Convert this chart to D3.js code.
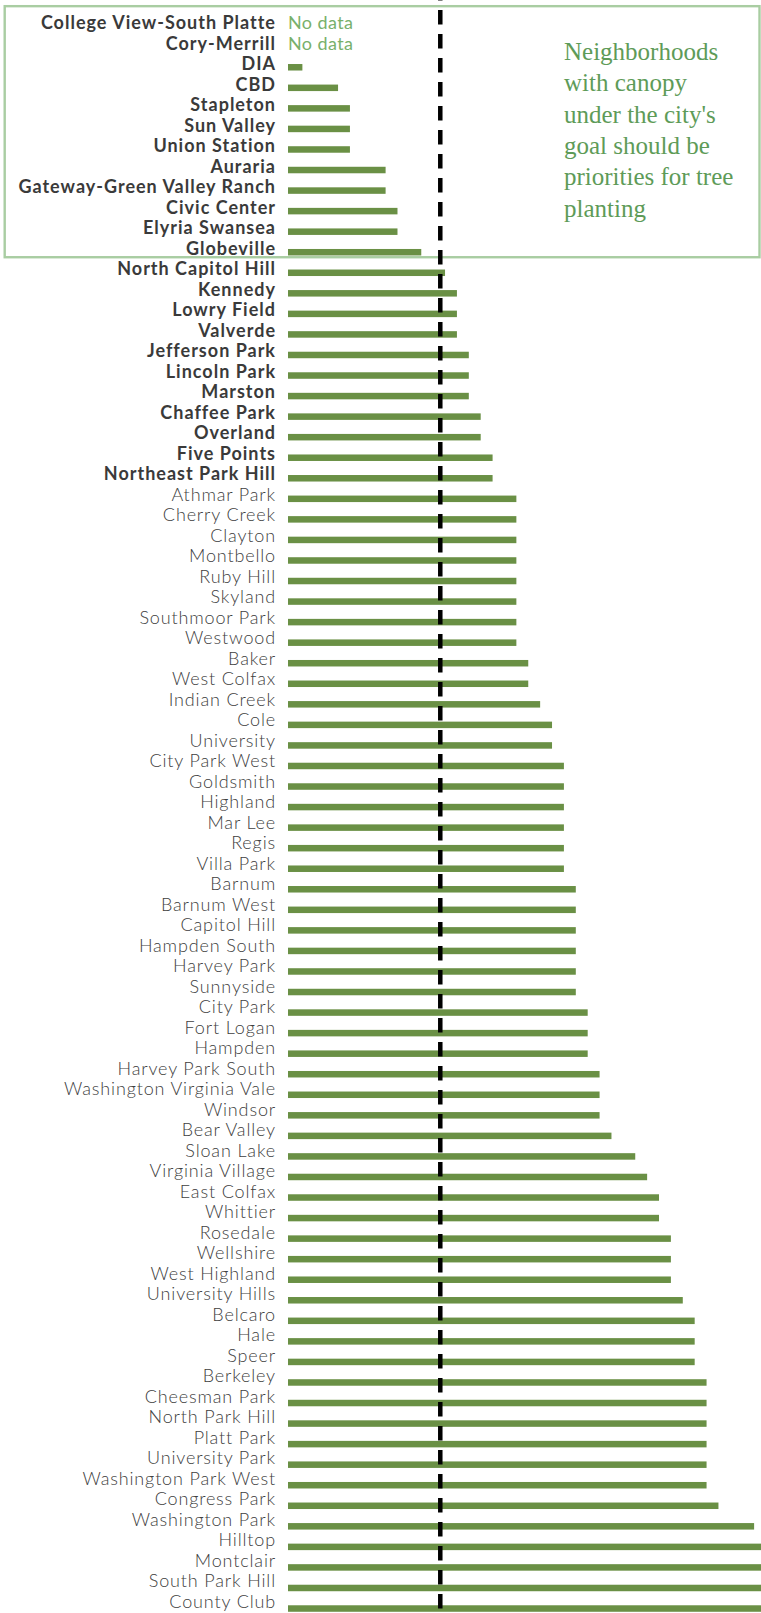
<!DOCTYPE html>
<html>
<head>
<meta charset="utf-8">
<script src="https://cdn.jsdelivr.net/npm/d3@7"></script>
<style>
  body { margin: 0; background: #fff; }
  svg { display: block; }
</style>
</head>
<body>
<svg id="chart" width="761" height="1613"></svg>
<script>
// Denver neighborhoods, sorted by tree canopy cover (percent of land area)
const neighborhoods = [
  "College View-South Platte", "Cory-Merrill", "DIA", "CBD", "Stapleton",
  "Sun Valley", "Union Station", "Auraria", "Gateway-Green Valley Ranch",
  "Civic Center", "Elyria Swansea", "Globeville", "North Capitol Hill",
  "Kennedy", "Lowry Field", "Valverde", "Jefferson Park", "Lincoln Park",
  "Marston", "Chaffee Park", "Overland", "Five Points", "Northeast Park Hill",
  "Athmar Park", "Cherry Creek", "Clayton", "Montbello", "Ruby Hill",
  "Skyland", "Southmoor Park", "Westwood", "Baker", "West Colfax",
  "Indian Creek", "Cole", "University", "City Park West", "Goldsmith",
  "Highland", "Mar Lee", "Regis", "Villa Park", "Barnum", "Barnum West",
  "Capitol Hill", "Hampden South", "Harvey Park", "Sunnyside", "City Park",
  "Fort Logan", "Hampden", "Harvey Park South", "Washington Virginia Vale",
  "Windsor", "Bear Valley", "Sloan Lake", "Virginia Village", "East Colfax",
  "Whittier", "Rosedale", "Wellshire", "West Highland", "University Hills",
  "Belcaro", "Hale", "Speer", "Berkeley", "Cheesman Park", "North Park Hill",
  "Platt Park", "University Park", "Washington Park West", "Congress Park",
  "Washington Park", "Hilltop", "Montclair", "South Park Hill", "County Club"
];

// canopy cover in percent; null where no data is available
const canopy = [
  null, null, 1, 4, 5,
  5, 5, 8, 8,
  9, 9, 11, 13,
  14, 14, 14, 15, 15,
  15, 16, 16, 17, 17,
  19, 19, 19, 19, 19,
  19, 19, 19, 20, 20,
  21, 22, 22, 23, 23,
  23, 23, 23, 23, 24, 24,
  24, 24, 24, 24, 25,
  25, 25, 26, 26,
  26, 27, 29, 30, 31,
  31, 32, 32, 32, 33,
  34, 34, 34, 35, 35, 35,
  35, 35, 35, 36,
  39, 41, 42, 43, 45
];

// the city's canopy goal, drawn as the dashed reference line
const cityGoal = 12.6;
// neighborhoods below this share get a bold label
const boldBelow = 18;

const noDataText = "No data";
const noteLines = [
  "Neighborhoods",
  "with canopy",
  "under the city's",
  "goal should be",
  "priorities for tree",
  "planting"
];

const rows = neighborhoods.map((name, i) => ({ name, value: canopy[i] }));
const isBold = d => d.value === null || d.value < boldBelow;

const W = 761, H = 1613;
const barLeft = 288;
const labelRight = 276;
const barHeight = 6.5;

const svg = d3.select("#chart");

const x = d3.scaleLinear().domain([0, 40]).range([290.5, 766]);
// bar rows
const y = d3.scaleBand().domain(neighborhoods).range([15.9, 1618.8]).padding(0);
const cy = name => y(name) + y.bandwidth() / 2;
// label rows sit on a slightly tighter pitch than the bars
const yLabel = d3.scaleBand().domain(neighborhoods).range([16.05, 1615.05]).padding(0);
const ly = name => yLabel(name) + yLabel.bandwidth() / 2 + 3;

// box around the neighborhoods that fall short of the goal
const underGoal = rows.filter(d => d.value === null || d.value < cityGoal);
const boxTop = cy(underGoal[0].name) - 20;
const boxBottom = cy(underGoal[underGoal.length - 1].name) + 5;
svg.append("rect")
  .attr("x", 4.7)
  .attr("y", boxTop)
  .attr("width", 759.5 - 4.7)
  .attr("height", boxBottom - boxTop)
  .attr("fill", "none")
  .attr("stroke", "#a9cda2")
  .attr("stroke-width", 2.4);

// bars
svg.append("g")
  .selectAll("rect")
  .data(rows.filter(d => d.value !== null))
  .join("rect")
  .attr("x", barLeft)
  .attr("y", d => cy(d.name) - barHeight / 2)
  .attr("width", d => x(d.value) - barLeft)
  .attr("height", barHeight)
  .attr("fill", "#6a9045");

// "No data" markers
svg.append("g")
  .selectAll("text")
  .data(rows.filter(d => d.value === null))
  .join("text")
  .attr("x", barLeft)
  .attr("y", d => ly(d.name))
  .attr("font-family", "Lato, sans-serif")
  .attr("font-size", 18)
  .attr("font-weight", 400)
  .attr("letter-spacing", 0.4)
  .attr("fill", "#78b06b")
  .text(noDataText);

// neighborhood labels
svg.append("g")
  .selectAll("text")
  .data(rows)
  .join("text")
  .attr("x", labelRight)
  .attr("y", d => ly(d.name))
  .attr("text-anchor", "end")
  .attr("font-family", "Lato, sans-serif")
  .attr("font-size", 18)
  .attr("letter-spacing", d => isBold(d) ? 1.0 : 0.85)
  .attr("font-weight", d => isBold(d) ? 700 : 300)
  .attr("fill", d => isBold(d) ? "#3a3a3a" : "#404040")
  .text(d => d.name);

// goal line
svg.append("line")
  .attr("x1", x(cityGoal))
  .attr("x2", x(cityGoal))
  .attr("y1", -14)
  .attr("y2", H)
  .attr("stroke", "#000")
  .attr("stroke-width", 4.5)
  .attr("stroke-dasharray", "14.5 9.5");

// annotation
svg.append("text")
  .attr("font-family", "'Liberation Serif', serif")
  .attr("font-size", 25)
  .attr("fill", "#5e9b58")
  .selectAll("tspan")
  .data(noteLines)
  .join("tspan")
  .attr("x", 564)
  .attr("y", (d, i) => 60 + i * 31.35)
  .text(d => d);
</script>
</body>
</html>
